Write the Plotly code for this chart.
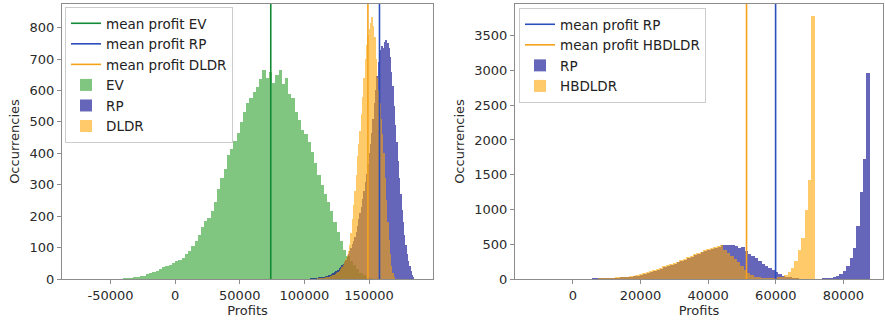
import plotly.graph_objects as go
from plotly.subplots import make_subplots

# ---------------- data ----------------
# Left panel
EV_START, EV_WIDTH = -40000, 2500
EV_COUNTS = [1, 2, 3, 4, 6, 8, 11, 15, 19, 23, 27, 32, 37, 41, 46, 52, 56, 62, 68, 78,
             90, 106, 122, 140, 165, 185, 195, 215, 245, 285, 320, 350, 395, 415, 440,
             465, 500, 530, 560, 575, 595, 610, 635, 665, 640, 658, 625, 650, 665, 622,
             640, 590, 575, 530, 505, 475, 460, 435, 405, 370, 330, 300, 270, 245, 215,
             180, 150, 120, 92, 72, 58, 45, 32, 20, 12, 5, 2]

RP_L_START, RP_L_WIDTH = 105000, 1000
RP_L_COUNTS = [1, 1, 1, 2, 2, 3, 4, 4, 5, 6, 7, 8, 9, 10, 12, 14, 16, 18, 21, 24,
               27, 30, 34, 38, 43, 48, 54, 62, 70, 80, 90, 100, 110, 120, 135, 150,
               170, 190, 210, 230, 255, 280, 310, 335, 365, 400, 430, 465, 510, 560,
               600, 645, 690, 715, 730, 740, 735, 755, 762, 750, 735, 705, 660, 615,
               550, 490, 435, 375, 320, 270, 220, 180, 140, 108, 80, 58, 40, 24, 12, 4]

DLDR_START, DLDR_WIDTH = 110000, 1000
DLDR_COUNTS = [1, 1, 2, 2, 3, 3, 4, 5, 6, 7, 9, 10, 12, 14, 17, 20, 23, 27, 32, 38,
               45, 53, 63, 75, 90, 108, 145, 190, 235, 280, 330, 390, 430, 470, 525,
               580, 640, 700, 745, 775, 795, 815, 835, 805, 770, 700, 640, 600, 560,
               510, 460, 400, 320, 250, 180, 125, 78, 40, 18, 6]

MEAN_EV, MEAN_RP_L, MEAN_DLDR = 74000, 158100, 149150

# Right panel
RP_R_START, RP_R_WIDTH = 5800, 1000
RP_R_COUNTS = [3, 2, 3, 4, 6, 8, 11, 14, 18, 22, 27, 33, 42, 50, 60, 72, 85, 100, 115,
               130, 148, 168, 188, 200, 218, 238, 258, 280, 300, 320, 340, 362, 382,
               400, 415, 430, 445, 465, 488, 490, 482, 484, 470, 450, 455, 405, 365,
               330, 295, 258, 220, 190, 165, 128, 100, 72, 50, 30, 16, 7, 2,
               0, 0, 0, 0, 0, 0, 0,
               2, 4, 10, 25, 47, 76, 110, 181, 302, 445, 756, 1245, 1724, 2969]

HB_START, HB_WIDTH = 7500, 1000
HB_COUNTS = [3, 5, 8, 10, 14, 18, 22, 27, 33, 40, 50, 60, 72, 85, 98, 112, 128, 145,
             165, 182, 198, 212, 228, 248, 268, 290, 312, 335, 355, 375, 395, 415, 432,
             445, 458, 472, 495, 420, 380, 335, 290, 240, 180, 130, 90, 55, 32, 16, 7,
             3, 2, 3, 7, 15, 30, 55, 95, 160, 260, 421, 593, 996, 1430, 3780]

MEAN_RP_R, MEAN_HB = 59950, 51350

LEFT_XTICKS = [-50000, 0, 50000, 100000, 150000]
LEFT_XTICKLABELS = ["-50000", "0", "50000", "100000", "150000"]
LEFT_YTICKS = [0, 100, 200, 300, 400, 500, 600, 700, 800]
RIGHT_XTICKS = [0, 20000, 40000, 60000, 80000]
RIGHT_YTICKS = [0, 500, 1000, 1500, 2000, 2500, 3000, 3500]

LEFT_XRANGE, LEFT_YRANGE = [-87500, 199500], [0, 875]
RIGHT_XRANGE = [-17100, 91700]
RIGHT_YRANGE = [0, 3955]

# ---------------- styling ----------------
FONT = "DejaVu Sans"
C_EV, C_RP, C_OR = "#2ca02c", "#00008b", "#ffa500"
L_EV, L_RP, L_OR = "#138a36", "#2b4fbd", "#f7a21b"


def centers(start, width, counts):
    return [start + width * (i + 0.5) for i in range(len(counts))]


fig = make_subplots(rows=1, cols=2)


def hist(start, width, counts, name, color, opacity, col, legend, rank):
    fig.add_trace(go.Bar(x=centers(start, width, counts), y=counts, width=width,
                         name=name, marker=dict(color=color, line=dict(width=0)),
                         opacity=opacity, legend=legend, legendrank=rank),
                  row=1, col=col)


def vline(x, ytop, name, color, col, legend, rank):
    fig.add_trace(go.Scatter(x=[x, x], y=[0, ytop], mode="lines", name=name,
                             line=dict(color=color, width=1.6), legend=legend,
                             legendrank=rank, hoverinfo="skip"),
                  row=1, col=col)


hist(EV_START, EV_WIDTH, EV_COUNTS, "EV", C_EV, 0.6, 1, "legend", 4)
hist(RP_L_START, RP_L_WIDTH, RP_L_COUNTS, "RP", C_RP, 0.6, 1, "legend", 5)
hist(DLDR_START, DLDR_WIDTH, DLDR_COUNTS, "DLDR", C_OR, 0.58, 1, "legend", 6)
vline(MEAN_EV, LEFT_YRANGE[1], "mean profit EV", L_EV, 1, "legend", 1)
vline(MEAN_RP_L, LEFT_YRANGE[1], "mean profit RP", L_RP, 1, "legend", 2)
vline(MEAN_DLDR, LEFT_YRANGE[1], "mean profit DLDR", L_OR, 1, "legend", 3)

hist(RP_R_START, RP_R_WIDTH, RP_R_COUNTS, "RP", C_RP, 0.6, 2, "legend2", 4)
hist(HB_START, HB_WIDTH, HB_COUNTS, "HBDLDR", C_OR, 0.58, 2, "legend2", 5)
vline(MEAN_RP_R, RIGHT_YRANGE[1], "mean profit RP", L_RP, 2, "legend2", 1)
vline(MEAN_HB, RIGHT_YRANGE[1], "mean profit HBDLDR", L_OR, 2, "legend2", 2)

W, H = 885, 322
MT, MB = 4, 43
PH = H - MT - MB

axis_common = dict(showline=True, mirror=True, linecolor="#8c8c8c", linewidth=1.2,
                   ticks="outside", ticklen=4, tickcolor="#8c8c8c", showgrid=False,
                   zeroline=False, tickfont=dict(family=FONT, size=13, color="#2a2a2a"),
                   tickformat="d", title_font=dict(family=FONT, size=13, color="#2a2a2a"))

fig.update_xaxes(**axis_common)
fig.update_yaxes(**axis_common)

LEG_FONT = dict(family=FONT, size=13.5, color="#222")

fig.update_layout(
    width=W, height=H, barmode="overlay", bargap=0,
    margin=dict(l=0, r=0, t=MT, b=MB),
    plot_bgcolor="white", paper_bgcolor="white",
    font=dict(family=FONT, size=13, color="#2a2a2a"),
    xaxis=dict(domain=[62 / W, 433 / W], range=LEFT_XRANGE, tickvals=LEFT_XTICKS,
               ticktext=LEFT_XTICKLABELS,
               title=dict(text="Profits", standoff=0)),
    yaxis=dict(range=LEFT_YRANGE, tickvals=LEFT_YTICKS,
               title=dict(text="Occurrencies", standoff=6)),
    xaxis2=dict(domain=[515 / W, 883 / W], range=RIGHT_XRANGE, tickvals=RIGHT_XTICKS,
                title=dict(text="Profits", standoff=0)),
    yaxis2=dict(range=RIGHT_YRANGE, tickvals=RIGHT_YTICKS,
                title=dict(text="Occurrencies", standoff=6)),
    legend=dict(x=65 / W, y=1 - 3 / PH, xanchor="left", yanchor="top",
                bgcolor="rgba(255,255,255,0.85)", bordercolor="#cccccc", borderwidth=1,
                font=LEG_FONT, itemwidth=30, tracegroupgap=0),
    legend2=dict(x=519 / W, y=1 - 4 / PH, xanchor="left", yanchor="top",
                 bgcolor="rgba(255,255,255,0.85)", bordercolor="#cccccc", borderwidth=1,
                 font=LEG_FONT, itemwidth=30, tracegroupgap=0),
    showlegend=True,
)

fig.write_html("out.html", config={"displayModeBar": False},
               post_script="document.body.style.margin='0';document.body.style.overflow='hidden';")
